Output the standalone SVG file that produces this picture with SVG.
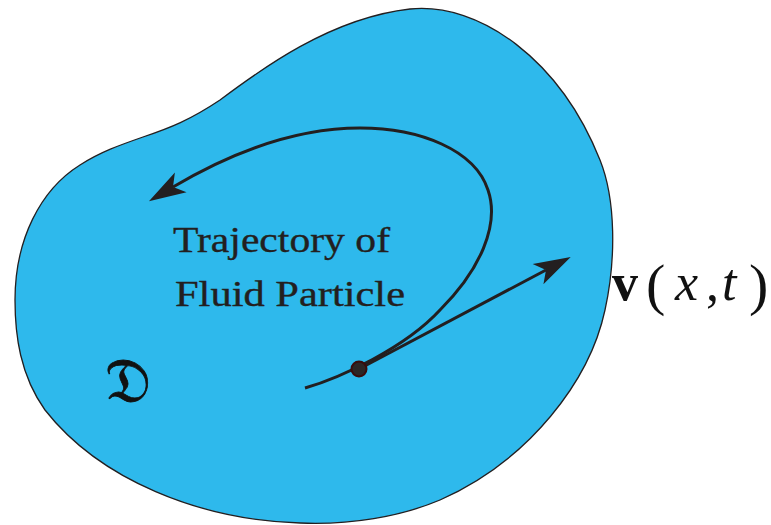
<svg xmlns="http://www.w3.org/2000/svg" width="771" height="525" viewBox="0 0 771 525">
<style>
.blob{fill:#2eb9ec;stroke:#231f20;stroke-width:1.3}
.conn{fill:none;stroke:#231f20;stroke-width:3;stroke-linecap:butt}
.lbl{font-family:"Liberation Serif","Times New Roman",serif;fill:#231f20;stroke:#231f20;stroke-width:0.35;font-size:35px}
.math{font-family:"Liberation Serif","Times New Roman",serif;fill:#111}
</style>
<defs>
<marker id="stealth" viewBox="-40 -14 42 28" markerWidth="42" markerHeight="28" refX="-28" refY="0" markerUnits="userSpaceOnUse" orient="auto">
<path d="M0,0 L-37,-11.5 L-28,0 L-37,11.5 Z" fill="#231f20"/>
</marker>
</defs>
<g id="domain">
<path class="blob" d="M15,300 C15,240 40,190 80,165 C100,152 120,145 143,137 C170,128 190,120 220,100 C260,70 330,18 410,9 C480,2 560,60 600,160 C616,200 616,260 605,310 C590,380 530,460 440,500 C400,517 350,525 300,523 C200,520 100,480 45,410 C20,375 15,335 15,300 Z"/>
<text class="math" x="105" y="402" font-size="62" stroke="#111" stroke-width="0.8" font-family="DejaVu Serif, DejaVu Sans, Noto Sans, serif">𝔇</text>
</g>
<g id="connectors">
<path class="conn" marker-end="url(#stealth)" d="M305,388 C340,378 405,348 440,310 C480,270 500,225 488,190 C475,150 420,128 360,128 C290,128 222,158 173,187"/>
<path class="conn" marker-end="url(#stealth)" d="M359,369 L546,270"/>
</g>
<g id="particle">
<circle cx="359" cy="369" r="7.5" fill="#2b2626" stroke="#3a0c0c" stroke-width="2"/>
</g>
<g id="label-trajectory">
<text class="lbl" x="173" y="252" textLength="217" lengthAdjust="spacingAndGlyphs">Trajectory of</text>
<text class="lbl" x="175" y="306" textLength="230" lengthAdjust="spacingAndGlyphs">Fluid Particle</text>
</g>
<g id="label-velocity">
<text class="math" y="300" font-size="52"><tspan x="612" font-weight="bold">v</tspan><tspan x="646" y="304" font-size="58">(</tspan><tspan x="675" y="300" font-style="italic">x</tspan><tspan x="706">,</tspan><tspan x="722" font-style="italic">t</tspan><tspan x="749" y="304" font-size="58">)</tspan></text>
</g>
</svg>
